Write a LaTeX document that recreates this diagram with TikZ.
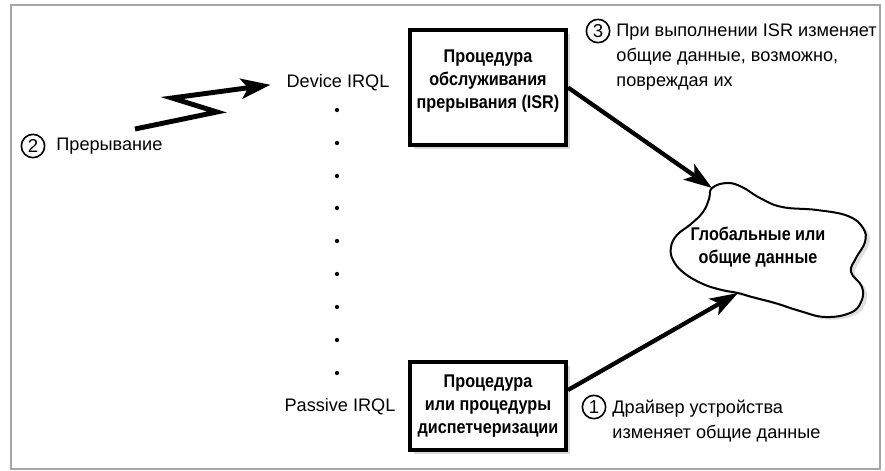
\documentclass[tikz,border=0pt]{standalone}
\usepackage{fontspec}
\setmainfont{Liberation Sans}
\newfontfamily\condfont{Liberation Sans}[FakeStretch=0.88]
\usetikzlibrary{positioning,arrows.meta,shadows}

\tikzset{
	proc box/.style={rectangle,draw,line width=3pt,fill=white,minimum width=117pt,
		drop shadow={shadow xshift=3pt,shadow yshift=-3pt,fill=gray!30,opacity=1}},
	proc text/.style={align=center,inner sep=2pt,font=\condfont\bfseries\fontsize{13.8}{17.3}\selectfont},
	note/.style={align=left,inner sep=2pt,font=\fontsize{13.6}{18.8}\selectfont},
	num/.style={circle,draw,line width=1.2pt,minimum size=17.5pt,inner sep=0pt,font=\fontsize{14}{14}\selectfont},
	fat arrow/.style={line width=3.2pt,-{Stealth[length=21pt,width=14pt,inset=5pt]}},
}

\begin{document}
\begin{tikzpicture}[x=0.75pt,y=-0.75pt]
	\useasboundingbox (0,0) rectangle (885,471);
	\draw[gray!70,line width=0.9pt] (11,5) rectangle (880,469);

	% irql scale
	\node (device irql) [note] at (338,83) {Device IRQL};
	\node (passive irql) [note] at (340,407) {Passive IRQL};
	\fill (337,110) circle (1.6pt);
	\fill (337,143) circle (1.6pt);
	\fill (337,176) circle (1.6pt);
	\fill (337,208) circle (1.6pt);
	\fill (337,241) circle (1.6pt);
	\fill (337,274) circle (1.6pt);
	\fill (337,307) circle (1.6pt);
	\fill (337,340) circle (1.6pt);
	\fill (337,373) circle (1.6pt);

	% routines
	\node (isr box) [proc box,minimum height=86.25pt] at (488,87.5) {};
	\node (isr label) [proc text,below=14pt of isr box.north] {Процедура\\обслуживания\\прерывания (ISR)};
	\node (dispatch box) [proc box,proc text,minimum height=66pt] at (488,406) {Процедура\\или процедуры\\диспетчеризации};

	% shared data
	\coordinate (cloud top) at (712,188);
	\coordinate (cloud bottom) at (738,293);
	\draw[line width=1.5pt,fill=white,drop shadow={shadow xshift=3pt,shadow yshift=-2pt,fill=gray!25,opacity=1}]
		plot[smooth cycle,tension=0.7] coordinates {(cloud top) (727,183) (742,187) (760,198) (782,207) (817,210)
		(848,216) (863,228) (865,242) (856,258) (851,272) (862,287) (861,302) (850,313) (825,317) (800,311)
		(775,303) (752,297) (cloud bottom) (722,290) (703,284) (684,273) (673,260) (671,247) (677,235)
		(691,224) (703,212) (709,199)};
	\node (data label) [proc text] at (758,247) {Глобальные или\\общие данные};

	% steps
	\node (step 2) [num] at (33,146) {2};
	\node (interrupt label) [note,right=6pt of step 2] {Прерывание};
	\node (step 3) [num] at (598,31) {3};
	\node (isr note) [note,anchor=north west] at ([xshift=5pt,yshift=1pt]step 3.north east) {При выполнении ISR изменяет\\общие данные, возможно,\\повреждая их};
	\node (step 1) [num] at (594,407) {1};
	\node (driver note) [note,anchor=north west] at ([xshift=5pt,yshift=1pt]step 1.north east) {Драйвер устройства\\изменяет общие данные};

	% arrows
	\coordinate (spark start) at (135,129);
	\draw[line width=3.7pt,miter limit=6,shorten >=10pt,-{Stealth[length=22pt,width=15pt,inset=5pt]}]
		(spark start) -- (217,112) -- (172,98) -- (device irql.west);
	\draw[fat arrow] (isr box.east) -- (cloud top);
	\draw[fat arrow] ([yshift=12pt]dispatch box.east) -- (cloud bottom);

\end{tikzpicture}
\end{document}
